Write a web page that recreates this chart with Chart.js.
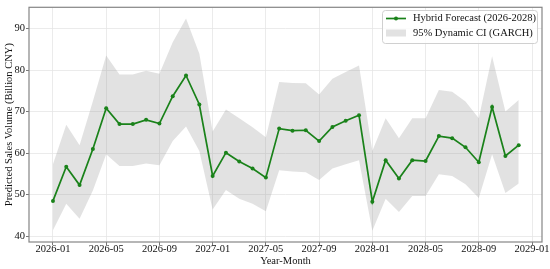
<!DOCTYPE html>
<html>
<head>
<meta charset="utf-8">
<script src="https://cdn.jsdelivr.net/npm/chart.js@4"></script>
<style>
  body { margin: 0; background: #fff; }
</style>
</head>
<body>
<canvas id="chart" width="550" height="269"></canvas>
<script>
// Monthly categories (one point per month)
var months = [
    "2026-01", "2026-02", "2026-03", "2026-04", "2026-05", "2026-06",
    "2026-07", "2026-08", "2026-09", "2026-10", "2026-11", "2026-12",
    "2027-01", "2027-02", "2027-03", "2027-04", "2027-05", "2027-06",
    "2027-07", "2027-08", "2027-09", "2027-10", "2027-11", "2027-12",
    "2028-01", "2028-02", "2028-03", "2028-04", "2028-05", "2028-06",
    "2028-07", "2028-08", "2028-09", "2028-10", "2028-11", "2028-12"
];

// Hybrid forecast (Billion CNY)
var forecast = [48.5, 56.7, 52.3, 61.0, 70.8, 67.0, 67.0, 68.0, 67.1, 73.7, 78.7, 71.7,
                54.5, 60.1, 58.0, 56.3, 54.1, 65.9, 65.4, 65.5, 62.9, 66.3, 67.8, 69.1,
                48.3, 58.3, 53.9, 58.3, 58.1, 64.1, 63.6, 61.4, 57.8, 71.1, 59.3, 61.9];

// 95% dynamic CI bounds (GARCH)
var ciUpper = [57.3, 66.8, 61.9, 72.5, 83.5, 78.9, 78.9, 79.8, 79.1, 86.7, 92.4, 83.9,
               65.2, 70.5, 68.4, 66.2, 63.8, 77.1, 76.9, 76.8, 74.1, 77.9, 79.5, 81.1,
               60.5, 68.4, 63.6, 68.4, 68.4, 75.2, 74.8, 72.4, 68.4, 83.3, 70.0, 72.8];
var ciLower = [41.4, 47.8, 44.2, 51.0, 59.7, 56.9, 56.9, 57.5, 57.1, 62.9, 66.4, 60.5,
               46.4, 51.1, 49.0, 47.8, 46.0, 55.9, 55.6, 55.4, 53.5, 56.3, 57.3, 58.3,
               41.3, 49.0, 45.8, 49.7, 49.7, 54.9, 54.5, 52.5, 49.2, 59.7, 50.4, 52.7];

// Axis tick labels
var xTickLabels = ["2026-01", "2026-05", "2026-09", "2027-01", "2027-05", "2027-09",
                   "2028-01", "2028-05", "2028-09", "2029-01"];
var yTickValues = [40, 50, 60, 70, 80, 90];

var lineColor = '#1a821a';
var bandColor = 'rgba(140,140,140,0.25)';
var fontFamily = '"Liberation Serif", "Times New Roman", serif';

// month string -> month index since 2026-01
function monthIndex(s) {
    var p = s.split('-');
    return (parseInt(p[0]) - 2026) * 12 + parseInt(p[1]) - 1;
}

function toPoints(values) {
    return values.map(function (v, i) { return {x: monthIndex(months[i]), y: v}; });
}

var xTickMap = {};
xTickLabels.forEach(function (l) { xTickMap[monthIndex(l)] = l; });

// Frame + legend drawn inside the plot area
var framePlugin = {
    id: 'frameLegend',
    afterDraw: function (chart) {
        var ctx = chart.ctx, a = chart.chartArea;
        ctx.save();
        ctx.strokeStyle = '#858585';
        ctx.lineWidth = 1.2;
        ctx.strokeRect(a.left, a.top, a.right - a.left, a.bottom - a.top);

        // legend box
        var bx = 382.5, by = 10.5, bw = 155, bh = 33;
        ctx.beginPath();
        ctx.roundRect(bx, by, bw, bh, 3);
        ctx.fillStyle = 'rgba(255,255,255,0.85)';
        ctx.fill();
        ctx.strokeStyle = '#d0d0d0';
        ctx.lineWidth = 1;
        ctx.stroke();

        // line entry
        ctx.strokeStyle = lineColor;
        ctx.lineWidth = 1.7;
        ctx.beginPath();
        ctx.moveTo(386, 18.5);
        ctx.lineTo(406, 18.5);
        ctx.stroke();
        ctx.fillStyle = lineColor;
        ctx.beginPath();
        ctx.arc(396, 18.5, 2, 0, Math.PI * 2);
        ctx.fill();

        // band entry
        ctx.fillStyle = bandColor;
        ctx.fillRect(386, 29.5, 20, 7);

        ctx.fillStyle = '#111';
        ctx.font = '10.5px ' + fontFamily;
        ctx.textBaseline = 'middle';
        ctx.textAlign = 'left';
        ctx.fillText(chart.data.datasets[0].label, 413, 18.5);
        ctx.fillText(chart.data.datasets[1].label, 413, 33);
        ctx.restore();
    }
};

var ctx = document.getElementById('chart').getContext('2d');

var chart = new Chart(ctx, {
    type: 'line',
    data: {
        datasets: [{
            label: 'Hybrid Forecast (2026-2028)',
            data: toPoints(forecast),
            borderColor: lineColor,
            backgroundColor: lineColor,
            borderWidth: 1.7,
            pointRadius: 2,
            pointBorderWidth: 0,
            tension: 0,
            fill: false,
            order: 0
        }, {
            label: '95% Dynamic CI (GARCH)',
            data: toPoints(ciUpper),
            borderWidth: 0,
            pointRadius: 0,
            backgroundColor: bandColor,
            fill: '+1',
            tension: 0,
            order: 1
        }, {
            label: 'lower',
            data: toPoints(ciLower),
            borderWidth: 0,
            pointRadius: 0,
            fill: false,
            tension: 0,
            order: 2
        }]
    },
    options: {
        responsive: false,
        animation: false,
        devicePixelRatio: 1,
        layout: {padding: {top: 5, right: 8, left: 0, bottom: 0}},
        plugins: {
            legend: {display: false},
            tooltip: {enabled: false}
        },
        scales: {
            x: {
                type: 'linear',
                min: -1.8,
                max: 36.75,
                afterBuildTicks: function (scale) {
                    scale.ticks = xTickLabels.map(function (l) { return {value: monthIndex(l)}; });
                },
                afterFit: function (scale) { scale.height = 27; },
                ticks: {
                    callback: function (v) { return xTickMap[v]; },
                    color: '#111',
                    font: {family: fontFamily, size: 10.5, lineHeight: 1},
                    padding: -1,
                    maxRotation: 0,
                    autoSkip: false
                },
                grid: {color: '#e6e6e6', lineWidth: 0.8, tickColor: '#555', tickLength: 3},
                border: {display: false},
                title: {
                    display: true,
                    text: 'Year-Month',
                    color: '#111',
                    font: {family: fontFamily, size: 10.5},
                    padding: {top: 0, bottom: 1}
                }
            },
            y: {
                min: 38.6,
                max: 95.1,
                afterBuildTicks: function (scale) {
                    scale.ticks = yTickValues.map(function (v) { return {value: v}; });
                },
                afterFit: function (scale) { scale.width = 29; },
                ticks: {
                    color: '#111',
                    font: {family: fontFamily, size: 10.5},
                    padding: 1
                },
                grid: {color: '#e6e6e6', lineWidth: 0.8, tickColor: '#555', tickLength: 3},
                border: {display: false},
                title: {
                    display: true,
                    text: 'Predicted Sales Volume (Billion CNY)',
                    color: '#111',
                    font: {family: fontFamily, size: 10.5},
                    padding: {top: 3, bottom: 0}
                }
            }
        }
    },
    plugins: [framePlugin]
});
</script>
</body>
</html>
